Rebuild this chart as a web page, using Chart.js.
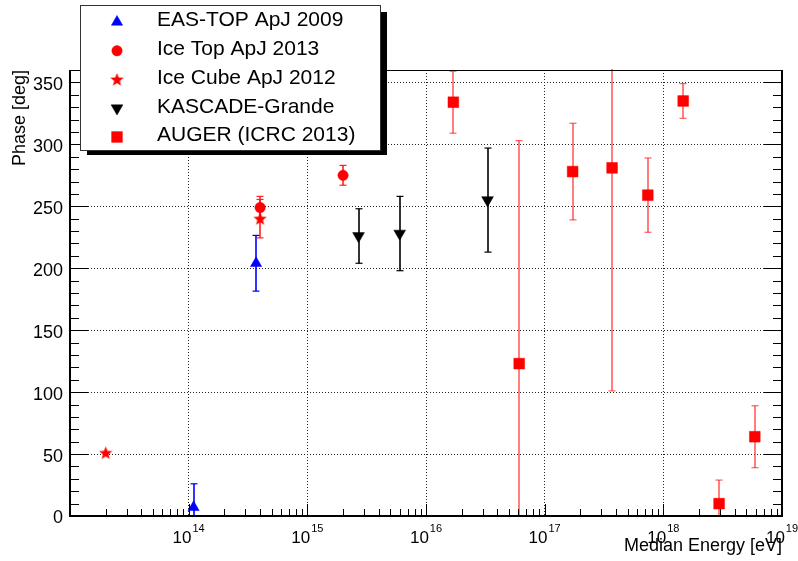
<!DOCTYPE html>
<html><head><meta charset="utf-8">
<script src="https://cdn.jsdelivr.net/npm/chart.js@4/dist/chart.umd.min.js"></script>
<style>html,body{margin:0;padding:0;background:#fff}</style>
</head><body>
<canvas id="c" width="798" height="561"></canvas>
<script>
// ---- data (energy in eV, phase in degrees, symmetric error in degrees) ----
const seriesNames = ["EAS-TOP ApJ 2009","Ice Top ApJ 2013","Ice Cube ApJ 2012","KASCADE-Grande","AUGER (ICRC 2013)"];
const easEnergy = [1.1e14, 3.7e14];
const easPhase  = [7, 204];
const easErr    = [19, 22.5];
const iceTopEnergy = [4.0e14, 2.0e15];
const iceTopPhase  = [249, 275];
const iceTopErr    = [9, 8];
const iceCubeEnergy = [2.0e13, 4.0e14];
const iceCubePhase  = [51, 240];
const iceCubeErr    = [0, 15.5];
const kgEnergy = [2.7e15, 6.0e15, 3.3e16];
const kgPhase  = [226, 228, 255];
const kgErr    = [22, 30, 42];
const augerEnergy = [1.7e16, 6.1e16, 1.72e17, 3.7e17, 7.4e17, 1.47e18, 2.95e18, 5.9e18];
const augerPhase  = [334, 123, 278, 281, 259, 335, 10, 64];
const augerErr    = [25, 180, 39, 180, 30, 14, 19, 25];
const xDecades = [13, 14, 15, 16, 17, 18, 19];
const xLabelDecades = [14, 15, 16, 17, 18, 19];
const yMin = 0, yMax = 360, yStep = 50, yMinorStep = 10;

// filled five-point star image for the Ice Cube marker
function makeStar(size, color){
  const c = document.createElement('canvas'); c.width = size; c.height = size;
  const g = c.getContext('2d'); const R = size/2 - 0.5, r = R*0.42, cx = size/2, cy = size/2 + 0.5;
  g.beginPath();
  for (let i=0;i<10;i++){ const rad = i%2?r:R; const a = -Math.PI/2 + i*Math.PI/5;
    g.lineTo(cx + rad*Math.cos(a), cy + rad*Math.sin(a)); }
  g.closePath(); g.fillStyle = color; g.fill(); return c;
}
const starImg = makeStar(15, '#ff0000');

function pts(xs, ys){ return xs.map((x,i)=>({x, y: ys[i]})); }

const datasets = [
  {label: seriesNames[0], data: pts(easEnergy, easPhase), errors: easErr, errorColor: '#0000ff',
   pointStyle: 'triangle', pointRadius: 6.5, rotation: 0, backgroundColor: '#0000ff', borderColor: '#0000ff', borderWidth: 0.5},
  {label: seriesNames[1], data: pts(iceTopEnergy, iceTopPhase), errors: iceTopErr, errorColor: '#ff2020',
   pointStyle: 'circle', pointRadius: 5.2, rotation: 0, backgroundColor: '#ff0000', borderColor: '#ff0000', borderWidth: 0.5},
  {label: seriesNames[2], data: pts(iceCubeEnergy, iceCubePhase), errors: iceCubeErr, errorColor: '#ff2020',
   pointStyle: starImg, pointRadius: 7, rotation: 0, backgroundColor: '#ff0000', borderColor: '#ff0000', borderWidth: 0},
  {label: seriesNames[3], data: pts(kgEnergy, kgPhase), errors: kgErr, errorColor: '#000000',
   pointStyle: 'triangle', pointRadius: 6.8, rotation: 180, backgroundColor: '#000000', borderColor: '#000000', borderWidth: 0.5},
  {label: seriesNames[4], data: pts(augerEnergy, augerPhase), errors: augerErr, errorColor: 'rgba(255,40,40,0.75)',
   pointStyle: 'rect', pointRadius: 7.6, rotation: 0, backgroundColor: '#ff0000', borderColor: '#ff0000', borderWidth: 0.5}
];

const FONT = "'Liberation Sans', Arial, Helvetica, sans-serif";

const errorBars = {
  id: 'errorBars',
  beforeDatasetsDraw(chart){
    const {ctx, chartArea: a, scales: {x, y}} = chart;
    ctx.save();
    ctx.setLineDash([]);
    ctx.beginPath(); ctx.rect(a.left, a.top - 1, a.right - a.left, a.bottom - a.top + 1); ctx.clip();
    chart.data.datasets.forEach(ds => {
      ds.data.forEach((p, i) => {
        const e = ds.errors[i]; if (!e) return;
        const px = Math.round(x.getPixelForValue(p.x));
        const yt = y.getPixelForValue(p.y + e), yb = y.getPixelForValue(p.y - e);
        ctx.strokeStyle = ds.errorColor; ctx.lineWidth = 1.6;
        ctx.beginPath(); ctx.moveTo(px, yt); ctx.lineTo(px, yb); ctx.stroke();
        ctx.lineWidth = 1.2;
        if (p.y + e <= yMax) { ctx.beginPath(); ctx.moveTo(px - 3.5, yt); ctx.lineTo(px + 3.5, yt); ctx.stroke(); }
        if (p.y - e >= yMin) { ctx.beginPath(); ctx.moveTo(px - 3.5, yb); ctx.lineTo(px + 3.5, yb); ctx.stroke(); }
      });
    });
    ctx.restore();
  }
};

const frameAndLegend = {
  id: 'frameAndLegend',
  afterDraw(chart){
    const {ctx, chartArea: a, scales: {x, y}} = chart;
    ctx.save();
    ctx.setLineDash([]);
    ctx.strokeStyle = '#000'; ctx.fillStyle = '#000';
    // frame
    ctx.fillRect(a.left, a.top, a.right - a.left, 1);
    ctx.fillRect(a.left - 1, a.top, 2, a.bottom - a.top + 1);
    ctx.fillRect(a.left - 1, a.bottom - 1, a.right - a.left + 2, 2);
    ctx.fillRect(a.right - 1, a.top, 2, a.bottom - a.top + 1);
    // y ticks (left and right)
    for (let v = yMin; v <= yMax; v += yMinorStep) {
      const py = Math.round(y.getPixelForValue(v));
      const len = (v % yStep === 0) ? 18 : 9;
      ctx.fillRect(a.left, py, len, 1);
      ctx.fillRect(a.right - len, py, len, 1);
    }
    // x ticks (bottom)
    xDecades.forEach(d => {
      for (let k = 1; k <= 9; k++) {
        const v = k * Math.pow(10, d); if (v > x.max * 1.0001) break;
        const px = Math.round(x.getPixelForValue(v));
        const len = k === 1 ? 12 : 7;
        ctx.fillRect(px, a.bottom - len, 1, len);
      }
    });
    // x tick labels 10^n
    ctx.fillStyle = '#000'; ctx.textBaseline = 'alphabetic'; ctx.textAlign = 'left';
    xLabelDecades.forEach(d => {
      const px = x.getPixelForValue(Math.pow(10, d));
      ctx.font = '17px ' + FONT; const wb = ctx.measureText('10').width;
      ctx.font = '11px ' + FONT; const we = ctx.measureText(String(d)).width;
      const start = px - (wb + we + 1) / 2;
      ctx.font = '17px ' + FONT; ctx.fillText('10', start, a.bottom + 27);
      ctx.font = '11px ' + FONT; ctx.fillText(String(d), start + wb + 1, a.bottom + 16);
    });
    // legend with shadow
    const L = 80, T = 5, W = 301, H = 146;
    ctx.fillStyle = '#000'; ctx.fillRect(L + 7, T + 7, W - 1, H - 3);
    ctx.fillStyle = '#fff'; ctx.fillRect(L, T, W, H);
    ctx.strokeStyle = '#333'; ctx.lineWidth = 1; ctx.strokeRect(L + 0.5, T + 0.5, W - 1, H - 1);
    chart.data.datasets.forEach((ds, i) => {
      const rowY = 20.5 + i * 28.75;
      ctx.fillStyle = ds.backgroundColor; ctx.strokeStyle = ds.borderColor; ctx.lineWidth = ds.borderWidth;
      Chart.helpers.drawPoint(ctx, {pointStyle: ds.pointStyle, radius: ds.pointRadius, rotation: ds.rotation, borderWidth: ds.borderWidth}, 117, rowY + 1.5);
      ctx.fillStyle = '#000'; ctx.font = '21px ' + FONT; ctx.textBaseline = 'middle'; ctx.textAlign = 'left';
      ctx.fillText(ds.label, 157, rowY);
    });
    ctx.restore();
  }
};

new Chart(document.getElementById('c'), {
  type: 'scatter',
  data: {datasets},
  options: {
    responsive: false, animation: false, devicePixelRatio: 1,
    layout: {padding: {top: 70, right: 16, left: 0, bottom: 0}},
    plugins: {legend: {display: false}, tooltip: {enabled: false}},
    elements: {point: {hoverRadius: 0}},
    scales: {
      x: {
        type: 'logarithmic', min: Math.pow(10, xDecades[0]), max: Math.pow(10, xDecades[xDecades.length - 1]),
        afterBuildTicks: s => { s.ticks = xDecades.map(d => ({value: Math.pow(10, d)})); },
        afterFit: s => { s.height = 45; },
        ticks: {display: false},
        grid: {color: '#222', lineWidth: 1, drawTicks: false},
        border: {display: false, dash: [1, 2]},
        title: {display: true, text: 'Median Energy [eV]', align: 'end', color: '#000',
                font: {family: FONT, size: 18}, padding: {top: 0, bottom: 4}}
      },
      y: {
        min: yMin, max: yMax,
        afterFit: s => { s.width = 70; },
        ticks: {stepSize: yStep, includeBounds: false, color: '#000', padding: 7, labelOffset: 2.5,
                font: {family: FONT, size: 18}},
        grid: {color: '#222', lineWidth: 1, drawTicks: false},
        border: {display: false, dash: [1, 2]},
        title: {display: true, text: 'Phase [deg]', align: 'end', color: '#000',
                font: {family: FONT, size: 18}, padding: {top: 9, bottom: 0}}
      }
    }
  },
  plugins: [errorBars, frameAndLegend]
});
</script>
</body></html>
